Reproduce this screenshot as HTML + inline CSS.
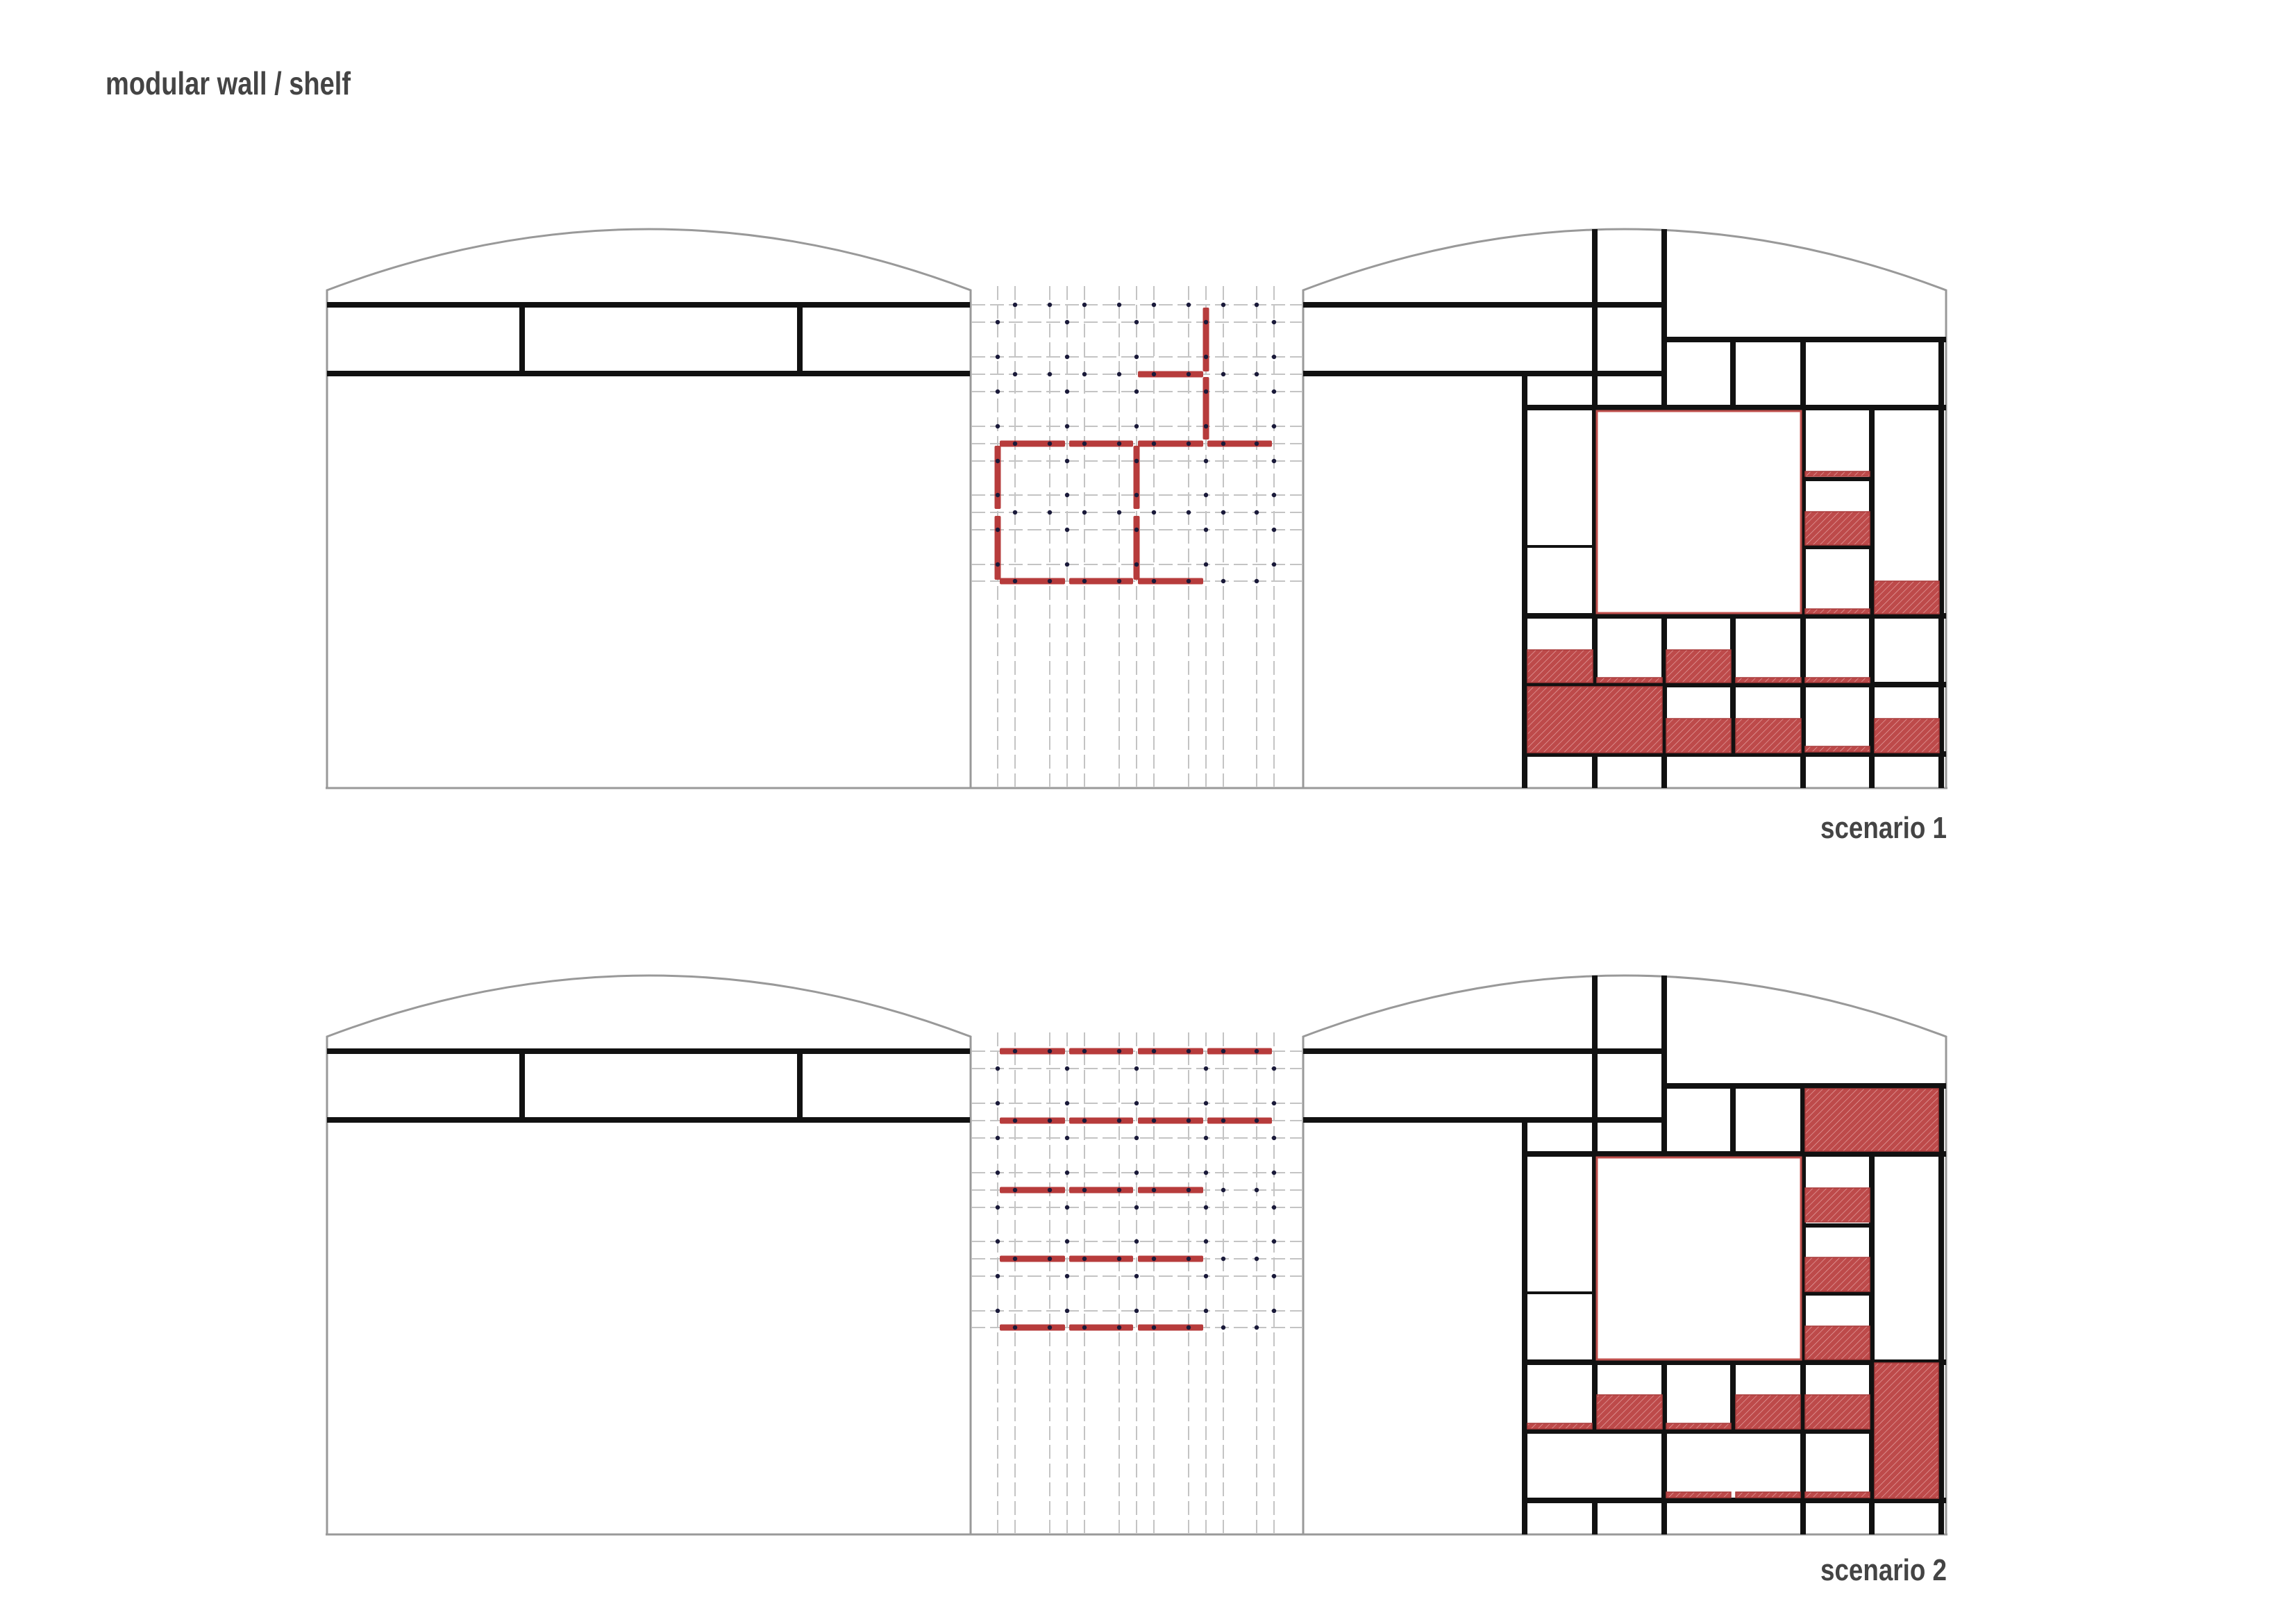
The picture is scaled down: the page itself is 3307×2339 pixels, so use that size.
<!DOCTYPE html>
<html><head><meta charset="utf-8"><style>
html,body{margin:0;padding:0;background:#fff;width:3307px;height:2339px;overflow:hidden}
svg{display:block}
.t{font-family:"Liberation Sans Narrow","Liberation Sans",sans-serif;font-weight:bold;fill:#444}
</style></head><body>
<svg xmlns="http://www.w3.org/2000/svg" width="3307" height="2339" viewBox="0 0 3307 2339">
<defs>
<pattern id="h" patternUnits="userSpaceOnUse" width="7" height="7" patternTransform="rotate(45)">
<rect width="7" height="7" fill="#bd4a4a"/><line x1="0" y1="0" x2="0" y2="7" stroke="#e8a9a9" stroke-width="1.3"/>
</pattern>
</defs>
<rect width="3307" height="2339" fill="#fff"/>
<text class="t" x="152" y="136" font-size="46" textLength="353" lengthAdjust="spacingAndGlyphs">modular wall / shelf</text>
<text class="t" x="2622" y="1207" font-size="44" textLength="182" lengthAdjust="spacingAndGlyphs">scenario 1</text>
<text class="t" x="2622" y="2276" font-size="44" textLength="182" lengthAdjust="spacingAndGlyphs">scenario 2</text>
<g id="s1"></g>
<g id="s2" transform="translate(0,1075)"></g>
</svg>
<script>
var NS="http://www.w3.org/2000/svg";
function el(g,tag,a){var e=document.createElementNS(NS,tag);for(var k in a)e.setAttribute(k,a[k]);g.appendChild(e);return e;}
function build(g,sc){
  el(g,"path",{d:"M471,1135 V418 Q935.5,242 1398,418 V1135",fill:"none",stroke:"#999","stroke-width":3});
  el(g,"path",{d:"M1877,1135 V418 Q2340,242 2803,418 V1135",fill:"none",stroke:"#999","stroke-width":3});
  el(g,"line",{x1:469,y1:1135,x2:2805,y2:1135,stroke:"#999","stroke-width":3});
  var xs=[1437,1462,1512,1537,1562,1612,1637,1662,1712,1737,1762,1810,1835];
  var ys=[439,464,514,539,564,614,639,664,713,738,763,813,837];
  xs.forEach(function(x){el(g,"line",{x1:x,y1:412,x2:x,y2:1133,stroke:"#c4c4c4","stroke-width":2,"stroke-dasharray":"20 7"});});
  ys.forEach(function(y){el(g,"line",{x1:1399,y1:y,x2:1875,y2:y,stroke:"#c4c4c4","stroke-width":2,"stroke-dasharray":"20 7"});});
  function L(x1,y1,x2,y2,w){el(g,"line",{x1:x1,y1:y1,x2:x2,y2:y2,stroke:"#111","stroke-width":w||8});}
  L(471,439,1397,439);L(471,538,1397,538);L(752,439,752,538);L(1152,439,1152,538);
  L(1877,439,2397,439);L(1877,538,2397,538);
  L(2397,489,2803,489);L(2192,587,2803,587);L(2192,887,2803,887);
  if(sc==1){L(2192,986,2803,986);}else{L(2192,986,2700,986);}
  L(2192,1086,2803,1086);
  L(2196,534,2196,1135);
  if(sc==1){L(2297,330,2297,1135);}else{L(2297,330,2297,990);L(2297,1082,2297,1135);}
  L(2397,330,2397,591);L(2397,883,2397,1135);
  if(sc==1){L(2496,485,2496,591);L(2496,883,2496,1090);}else{L(2496,485,2496,591);L(2496,883,2496,990);}
  L(2597,485,2597,1135);L(2696,583,2696,1135);L(2796,485,2796,1135);
  L(2597,690,2696,690,6);L(2597,788,2696,788,6);L(2196,787,2297,787,4);
  el(g,"rect",{x:2300,y:592,width:294,height:291,fill:"none",stroke:"#c0504d","stroke-width":3});
  var F=sc==1?[[2600,679,93,7],[2600,737,93,48],[2600,877,93,7],[2700,837,93,47],[2200,936,94,47],[2300,976,94,7],[2400,936,93,47],[2500,976,94,7],[2600,976,93,7],[2200,989,194,95],[2400,1035,93,49],[2500,1035,94,49],[2600,1075,93,8],[2700,1035,93,49]]
   :[[2600,493,192,90],[2600,636,93,49],[2600,736,93,49],[2600,835,93,48],[2200,975,93,8],[2300,934,94,49],[2400,975,93,8],[2500,934,93,49],[2600,934,93,49],[2700,888,92,195],[2400,1074,93,8],[2500,1074,93,8],[2600,1074,93,8]];
  F.forEach(function(f){el(g,"rect",{x:f[0],y:f[1],width:f[2],height:f[3],fill:"url(#h)",stroke:"#a83a3a","stroke-width":1.5});});
  function BH(y,n){var seg=[[1440,1534],[1540,1632],[1639,1733],[1739,1832]];for(var i=0;i<n;i++)el(g,"rect",{x:seg[i][0],y:y-4.5,width:seg[i][1]-seg[i][0],height:9,rx:2,fill:"#b73c3c"});}
  function BV(x,y1,y2){el(g,"rect",{x:x-4.5,y:y1,width:9,height:y2-y1,rx:2,fill:"#b73c3c"});}
  if(sc==1){
    BV(1737,443,535);BV(1737,543,633);
    el(g,"rect",{x:1639,y:534.5,width:94,height:9,rx:2,fill:"#b73c3c"});
    BH(639,4);BV(1437,642,733);BV(1437,743,835);BV(1637,642,733);BV(1637,743,835);BH(837,3);
  }else{
    BH(439,4);BH(539,4);BH(639,3);BH(738,3);BH(837,3);
  }
  var A=[439,539,639,738,837],B=[464,514,564,614,664,713,763,813];
  A.forEach(function(y){[1462,1512,1562,1612,1662,1712,1762,1810].forEach(function(x){el(g,"circle",{cx:x,cy:y,r:3.2,fill:"#1a1a3a"});});});
  B.forEach(function(y){[1437,1537,1637,1737,1835].forEach(function(x){el(g,"circle",{cx:x,cy:y,r:3.2,fill:"#1a1a3a"});});});
}
build(document.getElementById("s1"),1);
build(document.getElementById("s2"),2);
</script>
</body></html>
